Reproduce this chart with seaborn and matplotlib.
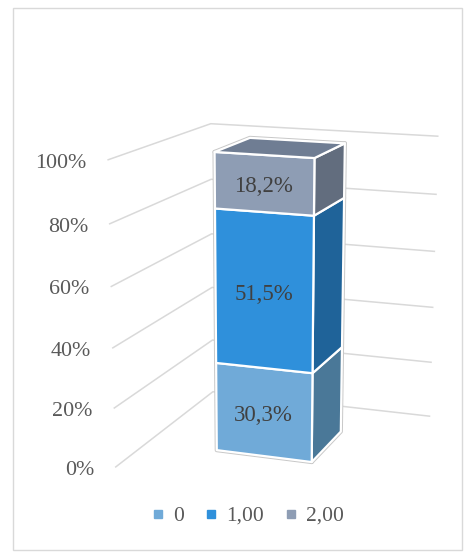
import numpy as np
import pandas as pd
import matplotlib
matplotlib.use("Agg")
import matplotlib.pyplot as plt
import seaborn as sns
from matplotlib.patches import Polygon, Rectangle
from matplotlib.lines import Line2D

categories = ["0", "1,00", "2,00"]
shares = [30.3, 51.5, 18.2]
tick_values = [0, 20, 40, 60, 80, 100]
tick_labels = ["0%", "20%", "40%", "60%", "80%", "100%"]

# Perspective camera for the 3-D scene: world (x, value, depth) -> figure pixels.
# x runs 0..1 along the back wall, depth 0 (front) .. 1 (back wall).
CAMERA = np.array([
    [228.544, -13.1781, 130.456, 115.149],
    [6.76051, -315.497, -15.4446, 467.387],
    [-0.0517015, -0.0507617, 0.153688, 1.0],
])
# Footprint of the bar column in world units
BAR_X0, BAR_X1 = 0.29843, 0.69895
BAR_Z0, BAR_Z1 = 0.30969, 0.68661


def proj(x, y, z):
    h = CAMERA @ np.array([x, y, z, 1.0])
    return h[0] / h[2], h[1] / h[2]


sns.set_theme(style="white")
plt.rcParams["font.family"] = ["Liberation Serif", "DejaVu Serif"]

fig = plt.figure(figsize=(4.65, 5.53), dpi=100)
ax = fig.add_axes([0, 0, 1, 1])
ax.set_xlim(0, 465)
ax.set_ylim(553, 0)
ax.axis("off")

# chart area frame
ax.add_patch(Rectangle((13, 8), 449, 542, fill=False, edgecolor="#D9D9D9", lw=1.0, zorder=1))

# gridlines on the left and back walls, with value labels
grid_c = "#D9D9D9"
for t, lab in zip(tick_values, tick_labels):
    y = t / 100
    a = proj(0, y, 0)
    c = proj(0, y, 1)
    d = proj(1, y, 1)
    ax.plot([a[0], c[0], d[0]], [a[1], c[1], d[1]], color=grid_c, lw=1.1,
            solid_capstyle="butt", zorder=2)
    ax.text(a[0] - 21, a[1] + 3, lab, ha="right", va="center", fontsize=15.8, color="#595959")

front_cols = ["#70AAD8", "#2F90DB", "#8E9DB4"]
side_cols = ["#4A7898", "#1F6399", "#626D7E"]
top_col = "#6F7D93"

df = pd.DataFrame({"category": categories, "share": shares})
df["top"] = df["share"].cumsum() / 100
df["bottom"] = df["top"] - df["share"] / 100


def face(pts, color):
    # soft grey halo under a white edge
    ax.add_patch(Polygon(pts, closed=True, facecolor="none", edgecolor="#C8C8C8", lw=3.0,
                         joinstyle="round", zorder=3))
    ax.add_patch(Polygon(pts, closed=True, facecolor=color, edgecolor="white", lw=1.6,
                         joinstyle="round", zorder=4))


for i, r in df.iterrows():
    y0, y1 = r["bottom"], r["top"]
    front = [proj(BAR_X0, y0, BAR_Z0), proj(BAR_X1, y0, BAR_Z0),
             proj(BAR_X1, y1, BAR_Z0), proj(BAR_X0, y1, BAR_Z0)]
    side = [proj(BAR_X1, y0, BAR_Z0), proj(BAR_X1, y0, BAR_Z1),
            proj(BAR_X1, y1, BAR_Z1), proj(BAR_X1, y1, BAR_Z0)]
    face(side, side_cols[i])
    face(front, front_cols[i])
    cx, cy = proj((BAR_X0 + BAR_X1) / 2, (y0 + y1) / 2, BAR_Z0)
    ax.text(cx, cy + 3, f"{r['share']:.1f}%".replace(".", ","), ha="center", va="center",
            fontsize=16.5, color="#404040", zorder=5)

ytop = df["top"].iloc[-1]
face([proj(BAR_X0, ytop, BAR_Z0), proj(BAR_X1, ytop, BAR_Z0),
      proj(BAR_X1, ytop, BAR_Z1), proj(BAR_X0, ytop, BAR_Z1)], top_col)

handles = [Line2D([], [], marker="s", ls="", markersize=6, markerfacecolor=c, markeredgecolor=c)
           for c in front_cols]
fig.legend(handles, categories, loc="center", bbox_to_anchor=(248 / 465, 1 - 516 / 553), ncol=3,
           frameon=False, fontsize=15.5, handlelength=0.5, handletextpad=0.45, columnspacing=1.0,
           labelcolor="#595959")

fig.savefig("out.png", dpi=100)
